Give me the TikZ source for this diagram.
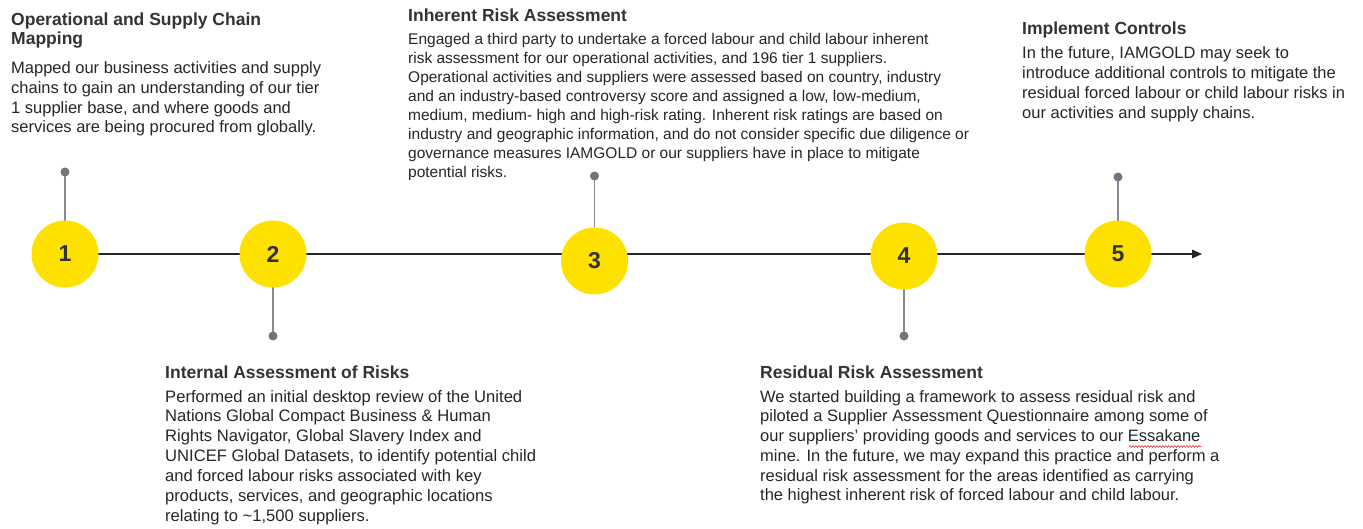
\documentclass[tikz,border=0pt]{standalone}
\usepackage{fontspec}
\setmainfont{Liberation Sans}
\usetikzlibrary{arrows.meta,backgrounds,decorations.pathmorphing}
\definecolor{ylw}{HTML}{FFE100}
\definecolor{stemc}{HTML}{8A8A92}
\definecolor{dotc}{HTML}{73737D}
\definecolor{ttl}{HTML}{333333}
\definecolor{bdy}{HTML}{262626}
\definecolor{spell}{HTML}{E03030}
\tikzset{
  num/.style={circle, fill=ylw, minimum size=67pt, inner sep=0pt,
    font=\fontsize{23}{23}\selectfont\bfseries, text=ttl},
  pin/.style={circle, fill=dotc, minimum size=9pt, inner sep=0pt},
  stemline/.style={draw=stemc, line width=1.4pt},
  axis/.style={draw=black!85, line width=1.3pt},
  ttlnode/.style={anchor=base west, inner sep=0pt, text=ttl,
    font=\fontsize{17.5}{19.5}\selectfont\bfseries},
  bdynode/.style={anchor=base west, inner sep=0pt, text=bdy},
  squiggle/.style={draw=spell, line width=0.6pt,
    decorate, decoration={snake, amplitude=0.9pt, segment length=3pt}},
}
\begin{document}
\begin{tikzpicture}[x=1pt,y=-1pt]
\useasboundingbox (0,0) rectangle (1363,529);
% circles
\node[num] (c1) at (65,254) {1};
\node[num] (c2) at (273,254) {2};
\node[num] (c3) at (594.5,261) {3};
\node[num] (c4) at (904,256) {4};
\node[num] (c5) at (1118,254) {5};
\coordinate (tip) at (1202,254);
% pins
\node[pin] (d1) at (65,172) {};
\node[pin] (d2) at (273,336) {};
\node[pin] (d3) at (594.5,176) {};
\node[pin] (d4) at (904,336) {};
\node[pin] (d5) at (1118,177) {};
\begin{scope}[on background layer]
\draw[axis, -{Triangle[length=10pt,width=8.5pt]}] (c1.center) -- (tip);
\draw[stemline] (d1.center) -- (c1.center);
\draw[stemline] (d2.center) -- (c2.center);
\draw[stemline] (d3.center) -- (c3.center);
\draw[stemline] (d4.center) -- (c4.center);
\draw[stemline] (d5.center) -- (c5.center);
\end{scope}
% block 1
\node[ttlnode] (t1) at (11,26) {\parbox[t]{400pt}{\fontsize{17.5}{19}\selectfont\bfseries Operational and Supply Chain\\Mapping}};
\node[bdynode] (b1) at (11,74) {\parbox[t]{400pt}{\fontsize{16.5}{19.6}\selectfont
Mapped our business activities and supply\\
chains to gain an understanding of our tier\\
1 supplier base, and where goods and\\
services are being procured from globally.}};
% block 2
\node[ttlnode] (t2) at (165,378) {Internal Assessment of Risks};
\node[bdynode] (b2) at (165,402) {\parbox[t]{500pt}{\fontsize{16.6}{19.9}\selectfont
Performed an initial desktop review of the United\\
Nations Global Compact Business \& Human\\
Rights Navigator, Global Slavery Index and\\
UNICEF Global Datasets, to identify potential child\\
and forced labour risks associated with key\\
products, services, and geographic locations\\
relating to \textasciitilde1,500 suppliers.}};
% block 3
\node[ttlnode] (t3) at (408,22) {Inherent Risk Assessment};
\node[bdynode] (b3) at (408,45) {\parbox[t]{600pt}{\fontsize{15.5}{18.9}\selectfont
Engaged a third party to undertake a forced labour and child labour inherent\\
risk assessment for our operational activities, and 196 tier 1 suppliers.\\
Operational activities and suppliers were assessed based on country, industry\\
and an industry-based controversy score and assigned a low, low-medium,\\
medium, medium- high and high-risk rating. Inherent risk ratings are based on\\
industry and geographic information, and do not consider specific due diligence or\\
governance measures IAMGOLD or our suppliers have in place to mitigate\\
potential risks.}};
% block 4
\node[ttlnode] (t4) at (760,378) {Residual Risk Assessment};
\node[bdynode] (b4) at (760,402) {\parbox[t]{600pt}{\fontsize{16.5}{19.8}\selectfont
We started building a framework to assess residual risk and\\
piloted a Supplier Assessment Questionnaire among some of\\
our suppliers' providing goods and services to our Essakane\\
mine. In the future, we may expand this practice and perform a\\
residual risk assessment for the areas identified as carrying\\
the highest inherent risk of forced labour and child labour.}};
\coordinate (sq1) at (1129,446.5);
\coordinate (sq2) at (1201,446.5);
\draw[squiggle] (sq1) -- (sq2);
% block 5
\node[ttlnode] (t5) at (1022,35) {Implement Controls};
\node[bdynode] (b5) at (1022,59) {\parbox[t]{400pt}{\fontsize{16.5}{19.7}\selectfont
In the future, IAMGOLD may seek to\\
introduce additional controls to mitigate the\\
residual forced labour or child labour risks in\\
our activities and supply chains.}};
\end{tikzpicture}
\end{document}
